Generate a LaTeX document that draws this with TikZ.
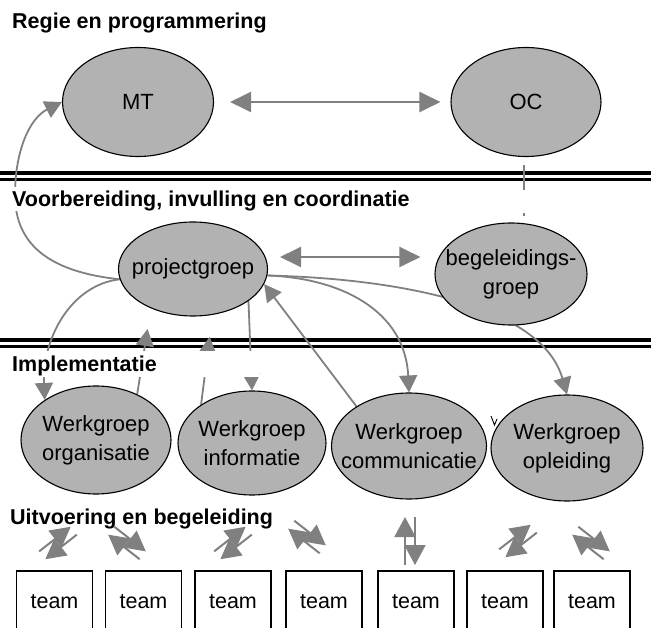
\documentclass[tikz,border=0pt]{standalone}
\usepackage{fontspec}
\setmainfont{Liberation Sans}
\usetikzlibrary{arrows.meta,shapes.geometric}
\pgfdeclarelayer{background}
\pgfsetlayers{background,main}

\tikzset{
  blob/.style={ellipse, draw=black, line width=1.1pt, fill=black!30,
    inner xsep=-40pt, inner ysep=-25pt, align=center,
    font=\fontsize{22}{29}\selectfont},
  heading/.style={font=\bfseries\fontsize{21.5}{25}\selectfont, anchor=base west, inner sep=0pt},
  teambox/.style={draw=black, line width=1.3pt, minimum width=76pt, minimum height=62pt,
    inner sep=0pt, font=\fontsize{21.5}{25}\selectfont},
  link/.style={draw=black!50, line width=1.8pt, -{Triangle[length=17pt,width=18pt]}},
  duo/.style={draw=black!50, line width=2.2pt,
    {Triangle[length=21pt,width=20pt]}-{Triangle[length=21pt,width=20pt]}},
  frag/.style={draw=black!50, line width=1.2pt},
  rule/.style={draw=black, line width=3.5pt},
  pairarrow/.style={draw=black!50, line width=2pt, -{Triangle[length=20pt,width=21pt]}},
  pics/swap/.style={code={
    \draw[pairarrow] (-5,#1) -- (-5,-#1);
    \draw[pairarrow] (5,-#1) -- (5,#1);
  }}
}

\begin{document}
\begin{tikzpicture}[x=1pt, y=-1pt]
\useasboundingbox (0,0) rectangle (651,628);
\clip (0,0) rectangle (651,628);

% level headings
\node[heading] (t1) at (12,29) {Regie en programmering};
\node[heading, fill=white, text height=18pt, text depth=2pt, inner ysep=2pt, inner xsep=2pt]
  (t2) at (10,207) {Voorbereiding, invulling en coordinatie};
\node[heading, fill=white, text width=246pt, align=left, text height=19pt, text depth=3pt, inner sep=2pt]
  (t3) at (10,372) {Implementatie};
\node[heading] (t4) at (10,524) {Uitvoering en begeleiding};

% groups
\node[blob, minimum width=151pt, minimum height=109pt] (mt) at (138,102) {MT};
\node[blob, minimum width=150pt, minimum height=109pt] (oc) at (526,102) {OC};
\node[blob, minimum width=149pt, minimum height=94pt] (pg) at (193,269) {projectgroep};
\node[blob, minimum width=152pt, minimum height=102pt] (bg) at (511,274) {begeleidings-\\groep};
\node[blob, minimum width=150pt, minimum height=108pt] (wo) at (96,440) {Werkgroep\\organisatie};
\node[blob, minimum width=148pt, minimum height=104pt] (wi) at (252,443) {Werkgroep\\informatie};
\node[blob, minimum width=155pt, minimum height=106pt] (wc) at (409,446) {Werkgroep\\communicatie};
\node[blob, minimum width=152pt, minimum height=106pt] (wl) at (567,448) {Werkgroep\\opleiding};

% stray mark beside the last work group
\draw[line width=0.9pt] (491,416) -- (494.5,425) -- (497,419);

% teams
\node[teambox] (tm1) at (54.5,602) {team};
\node[teambox] (tm2) at (143.5,602) {team};
\node[teambox] (tm3) at (233,602) {team};
\node[teambox] (tm4) at (324,602) {team};
\node[teambox] (tm5) at (416,602) {team};
\node[teambox] (tm6) at (505,602) {team};
\node[teambox] (tm7) at (592,602) {team};

% exchange arrows above the teams
\pic[rotate=-52] at (58,543) {swap=20};
\pic[rotate=52] at (127,543) {swap=20};
\pic[rotate=-52] at (233,543) {swap=20};
\pic[rotate=52] at (307,537) {swap=20};
\pic at (410,541) {swap=24};
\pic[rotate=-52] at (518,541) {swap=20};
\pic[rotate=52] at (591,543) {swap=20};

\begin{pgfonlayer}{background}
  % level separators
  \draw[rule] (0,173) -- (651,173) (0,179.5) -- (651,179.5);
  \draw[rule] (0,340) -- (651,340) (0,346.5) -- (651,346.5);

  \draw[duo, shorten <=16pt, shorten >=10pt] (mt.east) -- (oc.west);
  \draw[duo] ([shift={(12,-12)}]pg.east) -- ([shift={(-14,-17)}]bg.west);

  \coordinate (bend) at (15,195);
  \draw[link] (pg.188) .. controls (50,272) and (15,245) .. (bend)
              .. controls (15,150) and (30,118) .. (mt.west);
  \draw[link] (pg.188) .. controls (70,285) and (42,340) .. (wo.142);
  \draw[link, shorten >=21pt] (wo.48) -- (pg.223);
  \draw[link, shorten >=22pt] (wi.143) -- (pg.293);
  \draw[link] (pg.330) -- (wi.north);
  \draw[link] (wc.143) -- (pg.348);
  \draw[link] (pg.355) .. controls (340,278) and (405,310) .. (wc.north);
  \draw[link] (pg.355) .. controls (380,278) and (540,300) .. (wl.north);

  % pieces of the OC line left uncovered
  \draw[frag] ([shift={(-2,7.5)}]oc.south) -- ([shift={(-2,32.5)}]oc.south);
  \draw[frag] ([shift={(-2,55.5)}]oc.south) -- ([shift={(-2,58.5)}]oc.south);
\end{pgfonlayer}
\end{tikzpicture}
\end{document}
